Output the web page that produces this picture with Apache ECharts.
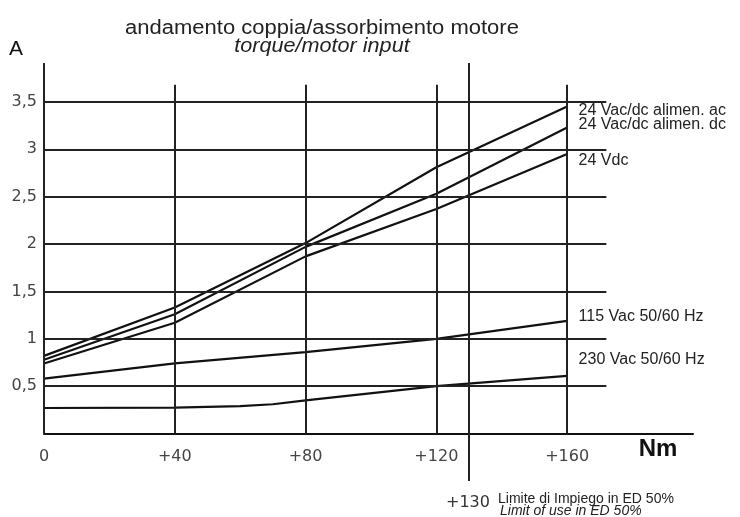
<!DOCTYPE html>
<html>
<head>
<meta charset="utf-8">
<script src="https://cdn.jsdelivr.net/npm/echarts@6.0.0/dist/echarts.min.js"></script>
<style>
html,body{margin:0;padding:0;background:#fff;}
#chart{width:740px;height:517px;}
</style>
</head>
<body>
<div id="chart"></div>
<script>
// coppia (Nm)
var torque = [0, 40, 80, 120, 160];
var torque230 = [0, 40, 60, 70, 80, 120, 160];
// assorbimento (A)
var alimAc = [0.82, 1.33, 2.01, 2.81, 3.45];
var alimDc = [0.78, 1.26, 1.97, 2.53, 3.23];
var vdc24 = [0.74, 1.17, 1.87, 2.37, 2.95];
var vac115 = [0.58, 0.74, 0.86, 1.00, 1.19];
var vac230 = [0.27, 0.275, 0.29, 0.31, 0.35, 0.50, 0.61];
var seriesNames = ['24 Vac/dc alimen. ac', '24 Vac/dc alimen. dc', '24 Vdc', '115 Vac 50/60 Hz', '230 Vac 50/60 Hz'];
var xTicks = [0, 40, 80, 120, 160];
var yTicks = [0.5, 1, 1.5, 2, 2.5, 3, 3.5];
var limitNm = 130;

function pairs(xs, ys){
	var out = [];
	for(var i=0;i<xs.length;i++){
		out.push([xs[i], ys[i]]);
	}
	return out;
}

//griglia disegnata come markLine (le linee non arrivano ai bordi)
function gridLines(){
	var lines = [];
	lines.push([{coord:[0, 0]}, {coord:[0, 3.91]}]);
	for(var i=0;i<yTicks.length;i++){
		lines.push([{coord:[0, yTicks[i]]}, {coord:[172, yTicks[i]]}]);
	}
	for(var j=1;j<xTicks.length;j++){
		lines.push([{coord:[xTicks[j], 0]}, {coord:[xTicks[j], 3.68]}]);
	}
	lines.push([{coord:[limitNm, -0.5]}, {coord:[limitNm, 3.91]}]);
	return lines;
}

//etichetta a fine curva, spostata in verticale di dy pixel
function makeSeries(name, xs, ys, dy){
	var last = xs.length - 1;
	return {
		name: name,
		type: 'line',
		data: pairs(xs, ys),
		symbol: 'none',
		clip: false,
		lineStyle: {color: '#111', width: 2.2},
		markPoint: {
			silent: true,
			symbol: 'circle',
			symbolSize: 1,
			symbolOffset: [0, dy],
			itemStyle: {color: 'rgba(0,0,0,0)'},
			label: {
				show: true,
				position: 'right',
				distance: 11,
				formatter: name,
				color: '#222',
				fontFamily: 'Liberation Sans',
				fontSize: 16
			},
			data: [{coord: [xs[last], ys[last]]}]
		}
	};
}

var series = [
	makeSeries(seriesNames[0], torque, alimAc, 4),
	makeSeries(seriesNames[1], torque, alimDc, -3),
	makeSeries(seriesNames[2], torque, vdc24, 7),
	makeSeries(seriesNames[3], torque, vac115, -4),
	makeSeries(seriesNames[4], torque230, vac230, -16)
];
series.push({
	type: 'line',
	data: [],
	clip: false,
	markLine: {
		silent: true,
		symbol: ['none', 'none'],
		label: {show: false},
		lineStyle: {color: '#222', width: 2, type: 'solid'},
		data: gridLines()
	}
});

var option = {
	animation: false,
	backgroundColor: '#fff',
	grid: {left: 44, right: 47, top: 63, bottom: 36, outerBoundsMode: 'none'},
	xAxis: {
		type: 'value',
		min: 0,
		max: 198.5,
		interval: 40,
		offset: -47.4,
		axisLine: {onZero: false, lineStyle: {color: '#111', width: 2}},
		axisTick: {show: false},
		splitLine: {show: false},
		axisLabel: {
			showMaxLabel: false,
			margin: 15,
			color: '#444',
			fontFamily: 'DejaVu Sans',
			fontSize: 16,
			formatter: function(v){
				if(xTicks.indexOf(v) < 0) return '';
				return v === 0 ? '0' : '+' + v;
			}
		}
	},
	yAxis: {
		type: 'value',
		min: -0.5,
		max: 3.91,
		interval: 0.5,
		axisLine: {show: false},
		axisTick: {show: false},
		splitLine: {show: false},
		axisLabel: {
			showMinLabel: false,
			showMaxLabel: false,
			margin: 7,
			color: '#444',
			fontFamily: 'DejaVu Sans',
			fontSize: 16,
			formatter: function(v){
				if(yTicks.indexOf(v) < 0) return '';
				return String(v).replace('.', ',');
			}
		}
	},
	graphic: [
		{type: 'text', x: 322, y: 28, scaleX: 1.1, style: {text: 'andamento coppia/assorbimento motore', x: 0, y: 0, textAlign: 'center', textVerticalAlign: 'middle', font: '20px "Liberation Sans"', fill: '#222'}},
		{type: 'text', x: 322, y: 46, scaleX: 1.08, style: {text: 'torque/motor input', x: 0, y: 0, textAlign: 'center', textVerticalAlign: 'middle', font: 'italic 20px "Liberation Sans"', fill: '#222'}},
		{type: 'text', style: {text: 'A', x: 16, y: 49, textAlign: 'center', textVerticalAlign: 'middle', font: '21px "Liberation Sans"', fill: '#111'}},
		{type: 'text', style: {text: 'Nm', x: 658, y: 449, textAlign: 'center', textVerticalAlign: 'middle', font: 'bold 24px "Liberation Sans"', fill: '#111'}},
		{type: 'text', style: {text: '+130', x: 468, y: 503, textAlign: 'center', textVerticalAlign: 'middle', font: '16px "DejaVu Sans"', fill: '#333'}},
		{type: 'text', style: {text: 'Limite di Impiego in ED 50%', x: 498, y: 499, textAlign: 'left', textVerticalAlign: 'middle', font: '14px "Liberation Sans"', fill: '#222'}},
		{type: 'text', style: {text: 'Limit of use in ED 50%', x: 500, y: 511, textAlign: 'left', textVerticalAlign: 'middle', font: 'italic 14px "Liberation Sans"', fill: '#222'}}
	],
	series: series
};

var myChart = echarts.init(document.getElementById('chart'));
myChart.setOption(option);
</script>
</body>
</html>
